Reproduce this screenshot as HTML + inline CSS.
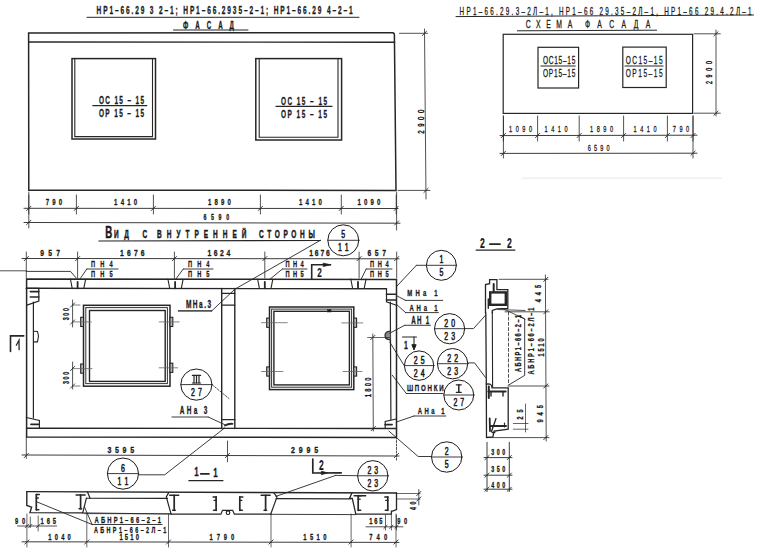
<!DOCTYPE html>
<html><head><meta charset="utf-8"><style>
html,body{margin:0;padding:0;background:#fff;}
svg{display:block;font-family:"Liberation Sans",sans-serif;}
</style></head><body>
<svg width="759" height="549" viewBox="0 0 759 549" stroke-linecap="round">
<rect width="759" height="549" fill="#fff"/>
<text x="0" y="0" font-size="10.6" font-weight="bold" fill="#1a1a1a" stroke="#1a1a1a" stroke-width="0.3" transform="translate(96.6 13.7) scale(0.62 1)" xml:space="preserve" textLength="412.9" lengthAdjust="spacing">НР1–66.29 3 2–1; НР1–66.2935–2–1; НР1–66.29 4–2–1</text>
<line x1="87" y1="17.3" x2="359" y2="17.3" stroke="#262626" stroke-width="1.0"/>
<text x="0" y="0" font-size="10" font-weight="bold" fill="#1a1a1a" stroke="#1a1a1a" stroke-width="0.3" transform="translate(183 28.5) scale(0.62 1)" xml:space="preserve" textLength="82.26" lengthAdjust="spacing">Ф А С А Д</text>
<line x1="173.5" y1="30" x2="248" y2="30" stroke="#262626" stroke-width="1.0"/>
<path d="M28.8,190.3 L28.6,33 L392.5,32.7 Q394.4,32.7 394.4,35 L396,190.4 Z" stroke="#262626" stroke-width="1.5" fill="none"/>
<line x1="28.6" y1="42" x2="394.6" y2="42.2" stroke="#262626" stroke-width="1.4"/>
<rect x="72" y="58.6" width="83.5" height="80.4" stroke="#262626" stroke-width="1.5" fill="none"/>
<path d="M74.8,58.6 L74.8,136.6 L152.5,136.6 L152.5,58.6" stroke="#262626" stroke-width="1.1" fill="none"/>
<rect x="255.8" y="58.6" width="85.8" height="81.4" stroke="#262626" stroke-width="1.5" fill="none"/>
<path d="M259.2,58.6 L259.2,137.2 L338,137.2 L338,58.6" stroke="#262626" stroke-width="1.1" fill="none"/>
<text x="0" y="0" font-size="10.4" font-weight="bold" fill="#1a1a1a" stroke="#1a1a1a" stroke-width="0.3" transform="translate(98.9 103.8) scale(0.62 1)" xml:space="preserve" textLength="72.74" lengthAdjust="spacing">ОС 15 – 15</text>
<line x1="92.8" y1="105.6" x2="146.8" y2="105.6" stroke="#262626" stroke-width="1.1"/>
<text x="0" y="0" font-size="10.4" font-weight="bold" fill="#1a1a1a" stroke="#1a1a1a" stroke-width="0.3" transform="translate(98.9 116.69999999999999) scale(0.62 1)" xml:space="preserve" textLength="72.74" lengthAdjust="spacing">ОР 15 – 15</text>
<text x="0" y="0" font-size="10.4" font-weight="bold" fill="#1a1a1a" stroke="#1a1a1a" stroke-width="0.3" transform="translate(281 104.60000000000001) scale(0.62 1)" xml:space="preserve" textLength="74.19" lengthAdjust="spacing">ОС 15 – 15</text>
<line x1="276" y1="106.4" x2="332" y2="106.4" stroke="#262626" stroke-width="1.1"/>
<text x="0" y="0" font-size="10.4" font-weight="bold" fill="#1a1a1a" stroke="#1a1a1a" stroke-width="0.3" transform="translate(281 117.5) scale(0.62 1)" xml:space="preserve" textLength="74.19" lengthAdjust="spacing">ОР 15 – 15</text>
<line x1="24" y1="208.3" x2="398" y2="208.5" stroke="#262626" stroke-width="0.9"/>
<line x1="26.7" y1="210.5" x2="30.900000000000002" y2="206.3" stroke="#262626" stroke-width="0.9"/>
<line x1="28.8" y1="195" x2="28.8" y2="214" stroke="#262626" stroke-width="0.8"/>
<line x1="74.30000000000001" y1="210.5" x2="78.5" y2="206.3" stroke="#262626" stroke-width="0.9"/>
<line x1="76.4" y1="195" x2="76.4" y2="214" stroke="#262626" stroke-width="0.8"/>
<line x1="151.3" y1="210.5" x2="155.5" y2="206.3" stroke="#262626" stroke-width="0.9"/>
<line x1="153.4" y1="195" x2="153.4" y2="214" stroke="#262626" stroke-width="0.8"/>
<line x1="258.29999999999995" y1="210.5" x2="262.5" y2="206.3" stroke="#262626" stroke-width="0.9"/>
<line x1="260.4" y1="195" x2="260.4" y2="214" stroke="#262626" stroke-width="0.8"/>
<line x1="339.2" y1="210.5" x2="343.40000000000003" y2="206.3" stroke="#262626" stroke-width="0.9"/>
<line x1="341.3" y1="195" x2="341.3" y2="214" stroke="#262626" stroke-width="0.8"/>
<line x1="394.09999999999997" y1="210.5" x2="398.3" y2="206.3" stroke="#262626" stroke-width="0.9"/>
<line x1="396.2" y1="195" x2="396.2" y2="214" stroke="#262626" stroke-width="0.8"/>
<line x1="28.8" y1="192" x2="28.8" y2="228" stroke="#262626" stroke-width="0.8"/>
<line x1="396.6" y1="192" x2="396.6" y2="230" stroke="#262626" stroke-width="0.8"/>
<text x="0" y="0" font-size="9.8" font-weight="bold" fill="#1a1a1a" stroke="#1a1a1a" stroke-width="0.3" transform="translate(45.8 205.3) scale(0.62 1)" xml:space="preserve" textLength="26.45" lengthAdjust="spacing">790</text>
<text x="0" y="0" font-size="9.8" font-weight="bold" fill="#1a1a1a" stroke="#1a1a1a" stroke-width="0.3" transform="translate(114.1 205.3) scale(0.62 1)" xml:space="preserve" textLength="37.1" lengthAdjust="spacing">1410</text>
<text x="0" y="0" font-size="9.8" font-weight="bold" fill="#1a1a1a" stroke="#1a1a1a" stroke-width="0.3" transform="translate(208.0 205.3) scale(0.62 1)" xml:space="preserve" textLength="37.1" lengthAdjust="spacing">1890</text>
<text x="0" y="0" font-size="9.8" font-weight="bold" fill="#1a1a1a" stroke="#1a1a1a" stroke-width="0.3" transform="translate(298.9 205.3) scale(0.62 1)" xml:space="preserve" textLength="37.1" lengthAdjust="spacing">1410</text>
<text x="0" y="0" font-size="9.8" font-weight="bold" fill="#1a1a1a" stroke="#1a1a1a" stroke-width="0.3" transform="translate(357.5 205.3) scale(0.62 1)" xml:space="preserve" textLength="37.1" lengthAdjust="spacing">1090</text>
<line x1="24" y1="222.5" x2="400" y2="223.2" stroke="#262626" stroke-width="0.9"/>
<line x1="26.7" y1="224.5" x2="30.900000000000002" y2="220.3" stroke="#262626" stroke-width="0.9"/>
<line x1="394.5" y1="225.1" x2="398.70000000000005" y2="220.9" stroke="#262626" stroke-width="0.9"/>
<text x="0" y="0" font-size="8.6" font-weight="bold" fill="#1a1a1a" stroke="#1a1a1a" stroke-width="0.3" transform="translate(203.45 220) scale(0.62 1)" xml:space="preserve" textLength="41.45" lengthAdjust="spacing">6590</text>
<line x1="399.5" y1="33.3" x2="427.6" y2="33.3" stroke="#262626" stroke-width="0.8"/>
<line x1="398" y1="190.4" x2="430" y2="190.4" stroke="#262626" stroke-width="0.8"/>
<line x1="424.5" y1="29" x2="426" y2="199" stroke="#262626" stroke-width="0.8"/>
<line x1="422.4" y1="35.4" x2="426.6" y2="31.199999999999996" stroke="#262626" stroke-width="0.9"/>
<line x1="423.9" y1="192.5" x2="428.1" y2="188.3" stroke="#262626" stroke-width="0.9"/>
<text x="0" y="0" font-size="9.8" font-weight="normal" fill="#1a1a1a" stroke="#1a1a1a" stroke-width="0.5" transform="translate(424 133.7) rotate(-90) scale(0.62 1)" xml:space="preserve" textLength="38.71" lengthAdjust="spacing">2900</text>
<text x="0" y="0" font-size="10.2" font-weight="normal" fill="#1a1a1a" stroke="#1a1a1a" stroke-width="0.3" transform="translate(459.6 14.5) scale(0.62 1)" xml:space="preserve" textLength="470.97" lengthAdjust="spacing">НР1–66.29.3–2Л–1, НР1–66 29.35–2Л–1, НР1–66 29.4.2Л–1</text>
<line x1="456" y1="16.6" x2="753.5" y2="15" stroke="#262626" stroke-width="1.0"/>
<text x="0" y="0" font-size="11" font-weight="normal" fill="#1a1a1a" stroke="#1a1a1a" stroke-width="0.3" transform="translate(525.8 28.1) scale(0.62 1)" xml:space="preserve" textLength="74.84" lengthAdjust="spacing">СХЕМА</text>
<text x="0" y="0" font-size="11" font-weight="normal" fill="#1a1a1a" stroke="#1a1a1a" stroke-width="0.3" transform="translate(584.9 28.1) scale(0.62 1)" xml:space="preserve" textLength="105.48" lengthAdjust="spacing">ФАСАДА</text>
<line x1="517.4" y1="30.8" x2="656.6" y2="30.2" stroke="#262626" stroke-width="1.0"/>
<rect x="503.2" y="34.3" width="189.4" height="79.1" stroke="#262626" stroke-width="1.2" fill="none"/>
<rect x="538" y="47.3" width="40.6" height="40.7" stroke="#262626" stroke-width="1.2" fill="none"/>
<rect x="622.8" y="47.1" width="43.4" height="40.4" stroke="#262626" stroke-width="1.2" fill="none"/>
<text x="0" y="0" font-size="10.6" font-weight="normal" fill="#1a1a1a" stroke="#1a1a1a" stroke-width="0.3" transform="translate(543 63.9) scale(0.62 1)" xml:space="preserve" textLength="52.1" lengthAdjust="spacing">ОС15–15</text>
<line x1="540.9" y1="66" x2="575.3" y2="66" stroke="#262626" stroke-width="1.1"/>
<text x="0" y="0" font-size="10.6" font-weight="normal" fill="#1a1a1a" stroke="#1a1a1a" stroke-width="0.3" transform="translate(543 76.5) scale(0.62 1)" xml:space="preserve" textLength="52.1" lengthAdjust="spacing">ОР15–15</text>
<text x="0" y="0" font-size="10.6" font-weight="normal" fill="#1a1a1a" stroke="#1a1a1a" stroke-width="0.3" transform="translate(625.7 63.9) scale(0.62 1)" xml:space="preserve" textLength="59.52" lengthAdjust="spacing">ОС15–15</text>
<line x1="625" y1="66" x2="663" y2="66" stroke="#262626" stroke-width="1.1"/>
<text x="0" y="0" font-size="10.6" font-weight="normal" fill="#1a1a1a" stroke="#1a1a1a" stroke-width="0.3" transform="translate(625.7 76.5) scale(0.62 1)" xml:space="preserve" textLength="59.52" lengthAdjust="spacing">ОР15–15</text>
<line x1="694" y1="33.8" x2="720.3" y2="33.8" stroke="#262626" stroke-width="0.8"/>
<line x1="694" y1="113.2" x2="720.3" y2="113.2" stroke="#262626" stroke-width="0.8"/>
<line x1="716" y1="30" x2="716" y2="116" stroke="#262626" stroke-width="0.8"/>
<line x1="713.9" y1="35.9" x2="718.1" y2="31.699999999999996" stroke="#262626" stroke-width="0.9"/>
<line x1="713.9" y1="115.3" x2="718.1" y2="111.10000000000001" stroke="#262626" stroke-width="0.9"/>
<text x="0" y="0" font-size="8.6" font-weight="normal" fill="#1a1a1a" stroke="#1a1a1a" stroke-width="0.5" transform="translate(712.3 84.1) rotate(-90) scale(0.62 1)" xml:space="preserve" textLength="37.1" lengthAdjust="spacing">2900</text>
<line x1="500" y1="135.6" x2="697" y2="135.2" stroke="#262626" stroke-width="0.9"/>
<line x1="501.29999999999995" y1="137.6" x2="505.5" y2="133.4" stroke="#262626" stroke-width="0.9"/>
<line x1="503.4" y1="116" x2="503.4" y2="141" stroke="#262626" stroke-width="0.8"/>
<line x1="535.5" y1="137.6" x2="539.7" y2="133.4" stroke="#262626" stroke-width="0.9"/>
<line x1="537.6" y1="116" x2="537.6" y2="141" stroke="#262626" stroke-width="0.8"/>
<line x1="577.1" y1="137.6" x2="581.3000000000001" y2="133.4" stroke="#262626" stroke-width="0.9"/>
<line x1="579.2" y1="116" x2="579.2" y2="141" stroke="#262626" stroke-width="0.8"/>
<line x1="621.5" y1="137.6" x2="625.7" y2="133.4" stroke="#262626" stroke-width="0.9"/>
<line x1="623.6" y1="116" x2="623.6" y2="141" stroke="#262626" stroke-width="0.8"/>
<line x1="665.3" y1="137.6" x2="669.5" y2="133.4" stroke="#262626" stroke-width="0.9"/>
<line x1="667.4" y1="116" x2="667.4" y2="141" stroke="#262626" stroke-width="0.8"/>
<line x1="690.9" y1="137.6" x2="695.1" y2="133.4" stroke="#262626" stroke-width="0.9"/>
<line x1="693" y1="116" x2="693" y2="141" stroke="#262626" stroke-width="0.8"/>
<line x1="503.4" y1="116" x2="503.4" y2="158" stroke="#262626" stroke-width="0.8"/>
<line x1="693" y1="116" x2="693" y2="158" stroke="#262626" stroke-width="0.8"/>
<text x="0" y="0" font-size="9" font-weight="normal" fill="#1a1a1a" stroke="#1a1a1a" stroke-width="0.3" transform="translate(509.0 132.2) scale(0.62 1)" xml:space="preserve" textLength="37.1" lengthAdjust="spacing">1090</text>
<text x="0" y="0" font-size="9" font-weight="normal" fill="#1a1a1a" stroke="#1a1a1a" stroke-width="0.3" transform="translate(544.5 132.2) scale(0.62 1)" xml:space="preserve" textLength="37.1" lengthAdjust="spacing">1410</text>
<text x="0" y="0" font-size="9" font-weight="normal" fill="#1a1a1a" stroke="#1a1a1a" stroke-width="0.3" transform="translate(590.1 132.2) scale(0.62 1)" xml:space="preserve" textLength="37.1" lengthAdjust="spacing">1890</text>
<text x="0" y="0" font-size="9" font-weight="normal" fill="#1a1a1a" stroke="#1a1a1a" stroke-width="0.3" transform="translate(633.5 132.2) scale(0.62 1)" xml:space="preserve" textLength="37.1" lengthAdjust="spacing">1410</text>
<text x="0" y="0" font-size="9" font-weight="normal" fill="#1a1a1a" stroke="#1a1a1a" stroke-width="0.3" transform="translate(672.8 132.2) scale(0.62 1)" xml:space="preserve" textLength="26.45" lengthAdjust="spacing">790</text>
<line x1="500" y1="153.4" x2="697" y2="153.2" stroke="#262626" stroke-width="0.9"/>
<line x1="501.29999999999995" y1="155.5" x2="505.5" y2="151.3" stroke="#262626" stroke-width="0.9"/>
<line x1="690.9" y1="155.29999999999998" x2="695.1" y2="151.1" stroke="#262626" stroke-width="0.9"/>
<text x="0" y="0" font-size="9" font-weight="normal" fill="#1a1a1a" stroke="#1a1a1a" stroke-width="0.3" transform="translate(587.7 150.6) scale(0.62 1)" xml:space="preserve" textLength="35.48" lengthAdjust="spacing">6590</text>
<line x1="522" y1="178.3" x2="721.5" y2="178.3" stroke="#f0f0f0" stroke-width="1.5"/>
<text x="0" y="0" font-size="16.2" font-weight="bold" fill="#1a1a1a" stroke="#1a1a1a" stroke-width="0.5" transform="translate(105.3 237.7) scale(0.6 1)" xml:space="preserve" textLength="9.17" lengthAdjust="spacing">В</text>
<text x="0" y="0" font-size="11.6" font-weight="bold" fill="#1a1a1a" stroke="#1a1a1a" stroke-width="0.5" transform="translate(114 237.8) scale(0.56 1)" xml:space="preserve" textLength="26.79" lengthAdjust="spacing">ИД</text>
<text x="0" y="0" font-size="11.6" font-weight="bold" fill="#1a1a1a" stroke="#1a1a1a" stroke-width="0.5" transform="translate(142.4 237.8) scale(0.56 1)" xml:space="preserve" textLength="7.14" lengthAdjust="spacing">С</text>
<text x="0" y="0" font-size="11.6" font-weight="bold" fill="#1a1a1a" stroke="#1a1a1a" stroke-width="0.5" transform="translate(157.1 237.8) scale(0.56 1)" xml:space="preserve" textLength="159.46" lengthAdjust="spacing">ВНУТРЕННЕЙ</text>
<text x="0" y="0" font-size="11.6" font-weight="bold" fill="#1a1a1a" stroke="#1a1a1a" stroke-width="0.5" transform="translate(259.1 237.8) scale(0.56 1)" xml:space="preserve" textLength="99.46" lengthAdjust="spacing">СТОРОНЫ</text>
<line x1="98.8" y1="241" x2="320.5" y2="240.5" stroke="#262626" stroke-width="1.1"/>
<circle cx="343.3" cy="240.3" r="15.5" stroke="#1a1a1a" stroke-width="1.0" fill="none"/>
<line x1="327.8" y1="240.3" x2="358.8" y2="240.3" stroke="#262626" stroke-width="0.9"/>
<text x="0" y="0" font-size="10.2" font-weight="normal" fill="#1a1a1a" stroke="#1a1a1a" stroke-width="0.55" transform="translate(341.3 238.20000000000002) scale(0.68 1)" xml:space="preserve" textLength="5.88" lengthAdjust="spacing">5</text>
<text x="0" y="0" font-size="10.2" font-weight="normal" fill="#1a1a1a" stroke="#1a1a1a" stroke-width="0.55" transform="translate(337.9 251.3) scale(0.68 1)" xml:space="preserve" textLength="15.88" lengthAdjust="spacing">11</text>
<path d="M320.4,240.3 L235,289.1 L211.7,310.9" stroke="#262626" stroke-width="0.9" fill="none"/>
<line x1="22" y1="258.5" x2="399" y2="258.8" stroke="#262626" stroke-width="0.9"/>
<line x1="24.2" y1="260.70000000000005" x2="28.400000000000002" y2="256.5" stroke="#262626" stroke-width="0.9"/>
<line x1="26.3" y1="252" x2="26.3" y2="278" stroke="#262626" stroke-width="0.8"/>
<line x1="75.5" y1="260.70000000000005" x2="79.69999999999999" y2="256.5" stroke="#262626" stroke-width="0.9"/>
<line x1="77.6" y1="252" x2="77.6" y2="278" stroke="#262626" stroke-width="0.8"/>
<line x1="172.3" y1="260.70000000000005" x2="176.5" y2="256.5" stroke="#262626" stroke-width="0.9"/>
<line x1="174.4" y1="252" x2="174.4" y2="278" stroke="#262626" stroke-width="0.8"/>
<line x1="262.7" y1="260.70000000000005" x2="266.90000000000003" y2="256.5" stroke="#262626" stroke-width="0.9"/>
<line x1="264.8" y1="252" x2="264.8" y2="278" stroke="#262626" stroke-width="0.8"/>
<line x1="357.0" y1="260.70000000000005" x2="361.20000000000005" y2="256.5" stroke="#262626" stroke-width="0.9"/>
<line x1="359.1" y1="252" x2="359.1" y2="278" stroke="#262626" stroke-width="0.8"/>
<line x1="394.59999999999997" y1="260.70000000000005" x2="398.8" y2="256.5" stroke="#262626" stroke-width="0.9"/>
<line x1="396.7" y1="252" x2="396.7" y2="278" stroke="#262626" stroke-width="0.8"/>
<text x="0" y="0" font-size="9.4" font-weight="bold" fill="#1a1a1a" stroke="#1a1a1a" stroke-width="0.3" transform="translate(40.3 255.9) scale(0.72 1)" xml:space="preserve" textLength="27.36" lengthAdjust="spacing">957</text>
<text x="0" y="0" font-size="9.4" font-weight="bold" fill="#1a1a1a" stroke="#1a1a1a" stroke-width="0.3" transform="translate(120.1 255.9) scale(0.72 1)" xml:space="preserve" textLength="34.03" lengthAdjust="spacing">1676</text>
<text x="0" y="0" font-size="9.4" font-weight="bold" fill="#1a1a1a" stroke="#1a1a1a" stroke-width="0.3" transform="translate(207.4 255.9) scale(0.72 1)" xml:space="preserve" textLength="31.67" lengthAdjust="spacing">1624</text>
<text x="0" y="0" font-size="9.4" font-weight="bold" fill="#1a1a1a" stroke="#1a1a1a" stroke-width="0.3" transform="translate(309.3 255.9) scale(0.72 1)" xml:space="preserve" textLength="28.47" lengthAdjust="spacing">1676</text>
<text x="0" y="0" font-size="9.4" font-weight="bold" fill="#1a1a1a" stroke="#1a1a1a" stroke-width="0.3" transform="translate(367.5 255.9) scale(0.72 1)" xml:space="preserve" textLength="25.69" lengthAdjust="spacing">657</text>
<line x1="0" y1="270.8" x2="26.3" y2="270.8" stroke="#262626" stroke-width="0.8"/>
<text x="0" y="0" font-size="9.2" font-weight="bold" fill="#1a1a1a" stroke="#1a1a1a" stroke-width="0.3" transform="translate(90.9 267.3) scale(0.62 1)" xml:space="preserve" textLength="35.0" lengthAdjust="spacing">ПН4</text>
<line x1="86.8" y1="269" x2="118.1" y2="269" stroke="#262626" stroke-width="0.9"/>
<text x="0" y="0" font-size="9.2" font-weight="bold" fill="#1a1a1a" stroke="#1a1a1a" stroke-width="0.3" transform="translate(90.9 277) scale(0.62 1)" xml:space="preserve" textLength="35.0" lengthAdjust="spacing">ПН5</text>
<line x1="86.8" y1="269" x2="80.3" y2="278.5" stroke="#262626" stroke-width="0.9"/>
<text x="0" y="0" font-size="9.2" font-weight="bold" fill="#1a1a1a" stroke="#1a1a1a" stroke-width="0.3" transform="translate(188 267.3) scale(0.62 1)" xml:space="preserve" textLength="34.68" lengthAdjust="spacing">ПН4</text>
<line x1="183.3" y1="269" x2="213" y2="269" stroke="#262626" stroke-width="0.9"/>
<text x="0" y="0" font-size="9.2" font-weight="bold" fill="#1a1a1a" stroke="#1a1a1a" stroke-width="0.3" transform="translate(188 277) scale(0.62 1)" xml:space="preserve" textLength="34.68" lengthAdjust="spacing">ПН5</text>
<line x1="183.3" y1="269" x2="175.7" y2="279.2" stroke="#262626" stroke-width="0.9"/>
<text x="0" y="0" font-size="9.2" font-weight="bold" fill="#1a1a1a" stroke="#1a1a1a" stroke-width="0.3" transform="translate(285.6 267.3) scale(0.62 1)" xml:space="preserve" textLength="29.35" lengthAdjust="spacing">ПН4</text>
<line x1="282.4" y1="269" x2="307" y2="269" stroke="#262626" stroke-width="0.9"/>
<text x="0" y="0" font-size="9.2" font-weight="bold" fill="#1a1a1a" stroke="#1a1a1a" stroke-width="0.3" transform="translate(285.6 277) scale(0.62 1)" xml:space="preserve" textLength="29.35" lengthAdjust="spacing">ПН5</text>
<line x1="282.4" y1="269" x2="269.8" y2="279.3" stroke="#262626" stroke-width="0.9"/>
<text x="0" y="0" font-size="9.2" font-weight="bold" fill="#1a1a1a" stroke="#1a1a1a" stroke-width="0.3" transform="translate(369.9 267.3) scale(0.62 1)" xml:space="preserve" textLength="30.32" lengthAdjust="spacing">ПН4</text>
<line x1="366.2" y1="269" x2="392" y2="269" stroke="#262626" stroke-width="0.9"/>
<text x="0" y="0" font-size="9.2" font-weight="bold" fill="#1a1a1a" stroke="#1a1a1a" stroke-width="0.3" transform="translate(369.9 277) scale(0.62 1)" xml:space="preserve" textLength="30.32" lengthAdjust="spacing">ПН5</text>
<line x1="366.2" y1="269" x2="361.1" y2="279.3" stroke="#262626" stroke-width="0.9"/>
<path d="M26.3,271.4 L70.5,271.4 L76.2,278" stroke="#262626" stroke-width="0.9" fill="none"/>
<path d="M311.7,278.8 L311.7,264.8 L330.6,264.8" stroke="#262626" stroke-width="1.6" fill="none"/>
<path d="M323.5,263.2 L330.6,264.8 L323.5,266.4 Z" stroke="#262626" stroke-width="0.8" fill="#1a1a1a"/>
<text x="0" y="0" font-size="13.6" font-weight="bold" fill="#1a1a1a" stroke="#1a1a1a" stroke-width="0.2" transform="translate(317.2 277.2) scale(0.6 1)" xml:space="preserve" textLength="10.5" lengthAdjust="spacing">2</text>
<path d="M26.6,437 L26.6,279 L396.5,279.6 L396.5,437.6 Z" stroke="#262626" stroke-width="1.5" fill="none"/>
<line x1="26.3" y1="288.3" x2="386.5" y2="288.8" stroke="#262626" stroke-width="1.4"/>
<line x1="26.6" y1="428.3" x2="396.5" y2="428.5" stroke="#262626" stroke-width="1.4"/>
<path d="M70.4,279 L72.2,288.3 M85.6,279.3 L83.8,288.3" stroke="#262626" stroke-width="1.1" fill="none"/>
<line x1="77.6" y1="282" x2="77.6" y2="288.3" stroke="#262626" stroke-width="1.8"/>
<path d="M167.9,279 L169.7,288.3 M183.1,279.3 L181.3,288.3" stroke="#262626" stroke-width="1.1" fill="none"/>
<line x1="175.1" y1="282" x2="175.1" y2="288.3" stroke="#262626" stroke-width="1.8"/>
<path d="M257.59999999999997,279 L259.4,288.3 M272.8,279.3 L271.0,288.3" stroke="#262626" stroke-width="1.1" fill="none"/>
<line x1="264.8" y1="282" x2="264.8" y2="288.3" stroke="#262626" stroke-width="1.8"/>
<path d="M350.79999999999995,279 L352.59999999999997,288.3 M366.0,279.3 L364.2,288.3" stroke="#262626" stroke-width="1.1" fill="none"/>
<line x1="358.0" y1="282" x2="358.0" y2="288.3" stroke="#262626" stroke-width="1.8"/>
<line x1="33.4" y1="302" x2="33.4" y2="418" stroke="#262626" stroke-width="1.2"/>
<path d="M26.3,288.3 L38.8,288.3 L38.8,301 L26.9,305.2" stroke="#262626" stroke-width="1.3" fill="none"/>
<line x1="30.3" y1="291.6" x2="38.8" y2="291.6" stroke="#262626" stroke-width="1.6"/>
<line x1="30.3" y1="297" x2="38.8" y2="297" stroke="#262626" stroke-width="1.6"/>
<path d="M33.6,331.2 L37.5,331.5 L38.5,336 L37.5,341.9 L33.6,341.9" stroke="#262626" stroke-width="1.1" fill="none"/>
<path d="M26.3,417.5 L39.4,420.4 L39.4,427.8" stroke="#262626" stroke-width="1.2" fill="none"/>
<line x1="31" y1="424.3" x2="38.4" y2="424.3" stroke="#262626" stroke-width="1.8"/>
<line x1="221.7" y1="288.5" x2="221.7" y2="428.5" stroke="#262626" stroke-width="1.4"/>
<line x1="234.8" y1="288.5" x2="234.8" y2="428.5" stroke="#262626" stroke-width="1.4"/>
<line x1="221.7" y1="293.3" x2="234.8" y2="293.3" stroke="#262626" stroke-width="1.2"/>
<line x1="221.7" y1="305.2" x2="234.8" y2="305.2" stroke="#262626" stroke-width="1.2"/>
<line x1="221.7" y1="419.7" x2="234.8" y2="419.7" stroke="#262626" stroke-width="1.2"/>
<path d="M225,425.5 Q228,423.5 232.5,423.8" stroke="#262626" stroke-width="1.8" fill="none"/>
<line x1="390.3" y1="302" x2="390.9" y2="419.5" stroke="#262626" stroke-width="1.2"/>
<path d="M386.5,288.8 L386.5,301.9 L395.7,305" stroke="#262626" stroke-width="1.2" fill="none"/>
<line x1="386.5" y1="294.2" x2="395.7" y2="294.2" stroke="#262626" stroke-width="1.6"/>
<line x1="386.5" y1="300" x2="395.7" y2="300" stroke="#262626" stroke-width="1.6"/>
<path d="M390.3,331 Q385,331.5 385,335.5 Q385,339.8 390.3,339.8" stroke="#262626" stroke-width="1.2" fill="#888"/>
<path d="M385.2,428.5 L385.2,421.5 L396.3,419" stroke="#262626" stroke-width="1.2" fill="none"/>
<line x1="385.2" y1="424.6" x2="392" y2="424.6" stroke="#262626" stroke-width="1.8"/>
<rect x="83.5" y="305.3" width="86.5" height="80.9" stroke="#262626" stroke-width="1.5" fill="none"/>
<rect x="85.8" y="307.6" width="81.6" height="76.0" stroke="#333" stroke-width="1.0" fill="none"/>
<rect x="89.5" y="310.5" width="75.7" height="70.9" stroke="#262626" stroke-width="1.4" fill="none"/>
<rect x="269.5" y="307" width="84.3" height="82.6" stroke="#262626" stroke-width="1.5" fill="none"/>
<rect x="271.6" y="309.1" width="80.0" height="78.1" stroke="#333" stroke-width="1.0" fill="none"/>
<rect x="273.9" y="311.3" width="75.5" height="73.6" stroke="#262626" stroke-width="1.4" fill="none"/>
<rect x="80.7" y="317.29999999999995" width="2.8" height="9.2" stroke="#262626" stroke-width="1.1" fill="#bbb"/>
<rect x="80.7" y="364.0" width="2.8" height="9.2" stroke="#262626" stroke-width="1.1" fill="#bbb"/>
<rect x="170" y="317.29999999999995" width="2.8" height="9.2" stroke="#262626" stroke-width="1.1" fill="#bbb"/>
<rect x="170" y="363.2" width="2.8" height="9.2" stroke="#262626" stroke-width="1.1" fill="#bbb"/>
<line x1="73" y1="321.9" x2="91.3" y2="321.9" stroke="#666" stroke-width="0.8"/>
<line x1="73" y1="368.6" x2="92" y2="368.6" stroke="#666" stroke-width="0.8"/>
<line x1="159.2" y1="321.9" x2="179.2" y2="321.9" stroke="#666" stroke-width="0.8"/>
<line x1="159.1" y1="367.8" x2="177.6" y2="367.8" stroke="#666" stroke-width="0.8"/>
<rect x="266.7" y="318.09999999999997" width="2.8" height="9.2" stroke="#262626" stroke-width="1.1" fill="#bbb"/>
<rect x="266.7" y="366.9" width="2.8" height="9.2" stroke="#262626" stroke-width="1.1" fill="#bbb"/>
<rect x="353.8" y="318.09999999999997" width="2.8" height="9.2" stroke="#262626" stroke-width="1.1" fill="#bbb"/>
<rect x="353.8" y="366.9" width="2.8" height="9.2" stroke="#262626" stroke-width="1.1" fill="#bbb"/>
<line x1="261.5" y1="322.7" x2="287.3" y2="322.7" stroke="#666" stroke-width="0.8"/>
<line x1="261.5" y1="371.5" x2="283" y2="371.5" stroke="#666" stroke-width="0.8"/>
<line x1="341.8" y1="322.9" x2="362.8" y2="322.9" stroke="#666" stroke-width="0.8"/>
<line x1="343" y1="371.5" x2="362" y2="371.5" stroke="#666" stroke-width="0.8"/>
<rect x="327.6" y="309.6" width="3.4" height="2.4" stroke="#262626" stroke-width="0.5" fill="#1a1a1a"/>
<line x1="72.6" y1="300" x2="72.6" y2="327" stroke="#262626" stroke-width="0.8"/>
<line x1="70.5" y1="307.1" x2="74.69999999999999" y2="302.9" stroke="#262626" stroke-width="0.9"/>
<line x1="70.5" y1="324.1" x2="74.69999999999999" y2="319.9" stroke="#262626" stroke-width="0.9"/>
<line x1="72.6" y1="305" x2="80" y2="305" stroke="#262626" stroke-width="0.6"/>
<text x="0" y="0" font-size="8.8" font-weight="bold" fill="#1a1a1a" stroke="#1a1a1a" stroke-width="0.3" transform="translate(69.4 320.3) rotate(-90) scale(0.62 1)" xml:space="preserve" textLength="19.84" lengthAdjust="spacing">300</text>
<line x1="72.6" y1="362" x2="72.6" y2="389" stroke="#262626" stroke-width="0.8"/>
<line x1="70.5" y1="370.6" x2="74.69999999999999" y2="366.4" stroke="#262626" stroke-width="0.9"/>
<line x1="70.5" y1="388.1" x2="74.69999999999999" y2="383.9" stroke="#262626" stroke-width="0.9"/>
<line x1="72.6" y1="386" x2="80" y2="386" stroke="#262626" stroke-width="0.6"/>
<text x="0" y="0" font-size="8.8" font-weight="bold" fill="#1a1a1a" stroke="#1a1a1a" stroke-width="0.3" transform="translate(69.4 384) rotate(-90) scale(0.62 1)" xml:space="preserve" textLength="19.84" lengthAdjust="spacing">300</text>
<line x1="372.8" y1="334" x2="373.3" y2="431" stroke="#262626" stroke-width="0.8"/>
<line x1="367.6" y1="337.5" x2="389.7" y2="337.5" stroke="#262626" stroke-width="0.7"/>
<line x1="370.7" y1="339.6" x2="374.90000000000003" y2="335.4" stroke="#262626" stroke-width="0.9"/>
<line x1="371.2" y1="430.70000000000005" x2="375.40000000000003" y2="426.5" stroke="#262626" stroke-width="0.9"/>
<text x="0" y="0" font-size="9.4" font-weight="bold" fill="#1a1a1a" stroke="#1a1a1a" stroke-width="0.3" transform="translate(370.6 397.3) rotate(-90) scale(0.62 1)" xml:space="preserve" textLength="31.94" lengthAdjust="spacing">1800</text>
<path d="M10.5,351.4 L10.5,335.9 L23.7,335.9" stroke="#262626" stroke-width="1.6" fill="none"/>
<path d="M16.3,345.2 L19,340.2 L19.1,349.7" stroke="#262626" stroke-width="1.3" fill="none"/>
<line x1="396.5" y1="286.6" x2="416.4" y2="265.3" stroke="#262626" stroke-width="0.9"/>
<line x1="416.4" y1="265.3" x2="426" y2="265.3" stroke="#262626" stroke-width="0.9"/>
<circle cx="441.4" cy="265.3" r="15" stroke="#1a1a1a" stroke-width="1.0" fill="none"/>
<line x1="426.4" y1="265.3" x2="456.4" y2="265.3" stroke="#262626" stroke-width="0.9"/>
<text x="0" y="0" font-size="10.2" font-weight="normal" fill="#1a1a1a" stroke="#1a1a1a" stroke-width="0.55" transform="translate(439.4 263.2) scale(0.68 1)" xml:space="preserve" textLength="5.88" lengthAdjust="spacing">1</text>
<text x="0" y="0" font-size="10.2" font-weight="normal" fill="#1a1a1a" stroke="#1a1a1a" stroke-width="0.55" transform="translate(439.4 276.3) scale(0.68 1)" xml:space="preserve" textLength="5.88" lengthAdjust="spacing">5</text>
<text x="0" y="0" font-size="9.6" font-weight="bold" fill="#1a1a1a" stroke="#1a1a1a" stroke-width="0.3" transform="translate(407.3 296.4) scale(0.62 1)" xml:space="preserve" textLength="48.71" lengthAdjust="spacing">МНа 1</text>
<line x1="405.6" y1="300.4" x2="442.7" y2="300.4" stroke="#262626" stroke-width="0.9"/>
<line x1="405.6" y1="300.4" x2="396.4" y2="295.6" stroke="#262626" stroke-width="0.9"/>
<text x="0" y="0" font-size="9.6" font-weight="bold" fill="#1a1a1a" stroke="#1a1a1a" stroke-width="0.3" transform="translate(409.5 310.9) scale(0.62 1)" xml:space="preserve" textLength="45.16" lengthAdjust="spacing">АНа 1</text>
<line x1="405.6" y1="312.6" x2="438.4" y2="312.6" stroke="#262626" stroke-width="0.9"/>
<line x1="405.6" y1="312.6" x2="396.4" y2="304.3" stroke="#262626" stroke-width="0.9"/>
<text x="0" y="0" font-size="10" font-weight="bold" fill="#1a1a1a" stroke="#1a1a1a" stroke-width="0.3" transform="translate(411.2 323.6) scale(0.62 1)" xml:space="preserve" textLength="29.03" lengthAdjust="spacing">АН 1</text>
<line x1="404.7" y1="325.3" x2="430.5" y2="325.3" stroke="#262626" stroke-width="0.9"/>
<line x1="404.7" y1="325.3" x2="389.7" y2="333.2" stroke="#262626" stroke-width="0.9"/>
<line x1="402.5" y1="337" x2="416.5" y2="337" stroke="#262626" stroke-width="1.1"/>
<line x1="414" y1="337" x2="414" y2="347" stroke="#262626" stroke-width="1.1"/>
<path d="M412,345 L414,350 L416,345 Z" stroke="#262626" stroke-width="1" fill="#1a1a1a"/>
<text x="0" y="0" font-size="11" font-weight="bold" fill="#1a1a1a" stroke="#1a1a1a" stroke-width="0.3" transform="translate(404 348.8) scale(0.62 1)" xml:space="preserve" textLength="7.1" lengthAdjust="spacing">1</text>
<circle cx="449.6" cy="328.7" r="15.1" stroke="#1a1a1a" stroke-width="1.0" fill="none"/>
<line x1="434.5" y1="328.7" x2="464.70000000000005" y2="328.7" stroke="#262626" stroke-width="0.9"/>
<text x="0" y="0" font-size="10.2" font-weight="normal" fill="#1a1a1a" stroke="#1a1a1a" stroke-width="0.55" transform="translate(444.2 326.59999999999997) scale(0.68 1)" xml:space="preserve" textLength="15.88" lengthAdjust="spacing">20</text>
<text x="0" y="0" font-size="10.2" font-weight="normal" fill="#1a1a1a" stroke="#1a1a1a" stroke-width="0.55" transform="translate(444.2 339.7) scale(0.68 1)" xml:space="preserve" textLength="15.88" lengthAdjust="spacing">23</text>
<circle cx="419.1" cy="365.6" r="14.7" stroke="#1a1a1a" stroke-width="1.0" fill="none"/>
<line x1="404.40000000000003" y1="365.6" x2="433.8" y2="365.6" stroke="#262626" stroke-width="0.9"/>
<text x="0" y="0" font-size="10.2" font-weight="normal" fill="#1a1a1a" stroke="#1a1a1a" stroke-width="0.55" transform="translate(413.7 363.5) scale(0.68 1)" xml:space="preserve" textLength="15.88" lengthAdjust="spacing">25</text>
<text x="0" y="0" font-size="10.2" font-weight="normal" fill="#1a1a1a" stroke="#1a1a1a" stroke-width="0.55" transform="translate(413.7 376.6) scale(0.68 1)" xml:space="preserve" textLength="15.88" lengthAdjust="spacing">24</text>
<circle cx="452.6" cy="363.7" r="15.2" stroke="#1a1a1a" stroke-width="1.0" fill="none"/>
<line x1="437.40000000000003" y1="363.7" x2="467.8" y2="363.7" stroke="#262626" stroke-width="0.9"/>
<text x="0" y="0" font-size="10.2" font-weight="normal" fill="#1a1a1a" stroke="#1a1a1a" stroke-width="0.55" transform="translate(447.2 361.59999999999997) scale(0.68 1)" xml:space="preserve" textLength="15.88" lengthAdjust="spacing">22</text>
<text x="0" y="0" font-size="10.2" font-weight="normal" fill="#1a1a1a" stroke="#1a1a1a" stroke-width="0.55" transform="translate(447.2 374.7) scale(0.68 1)" xml:space="preserve" textLength="15.88" lengthAdjust="spacing">23</text>
<circle cx="458.8" cy="395" r="15" stroke="#1a1a1a" stroke-width="1.0" fill="none"/>
<line x1="443.8" y1="395" x2="473.8" y2="395" stroke="#262626" stroke-width="0.9"/>
<text x="0" y="0" font-size="10.2" font-weight="normal" fill="#1a1a1a" stroke="#1a1a1a" stroke-width="0.55" transform="translate(453.4 406) scale(0.68 1)" xml:space="preserve" textLength="15.88" lengthAdjust="spacing">27</text>
<line x1="456.3" y1="384.8" x2="461.3" y2="384.8" stroke="#262626" stroke-width="1.2"/>
<line x1="458.8" y1="384.8" x2="458.8" y2="392.3" stroke="#262626" stroke-width="1.5"/>
<line x1="456.3" y1="392.3" x2="461.3" y2="392.3" stroke="#262626" stroke-width="1.2"/>
<line x1="403.8" y1="365" x2="389.7" y2="342" stroke="#262626" stroke-width="0.9"/>
<text x="0" y="0" font-size="8.8" font-weight="bold" fill="#1a1a1a" stroke="#1a1a1a" stroke-width="0.3" transform="translate(406.9 390.6) scale(0.7 1)" xml:space="preserve" textLength="52.71" lengthAdjust="spacing">ШПОНКИ</text>
<line x1="406.3" y1="393.5" x2="443" y2="393.5" stroke="#262626" stroke-width="0.9"/>
<line x1="406.3" y1="393.5" x2="392.3" y2="375.2" stroke="#262626" stroke-width="0.9"/>
<text x="0" y="0" font-size="9.6" font-weight="bold" fill="#1a1a1a" stroke="#1a1a1a" stroke-width="0.3" transform="translate(417.8 413.5) scale(0.62 1)" xml:space="preserve" textLength="43.23" lengthAdjust="spacing">АНа 1</text>
<line x1="414" y1="416" x2="445.8" y2="416" stroke="#262626" stroke-width="0.9"/>
<line x1="414" y1="416" x2="396.2" y2="422.1" stroke="#262626" stroke-width="0.9"/>
<path d="M464.9,328.6 L473.5,328.6 L485.5,315.3" stroke="#262626" stroke-width="0.9" fill="none"/>
<path d="M467.5,362.9 L474.6,362.9 L485.5,377.5" stroke="#262626" stroke-width="0.9" fill="none"/>
<text x="0" y="0" font-size="10.6" font-weight="bold" fill="#1a1a1a" stroke="#1a1a1a" stroke-width="0.3" transform="translate(185.9 308) scale(0.62 1)" xml:space="preserve" textLength="40.65" lengthAdjust="spacing">МНа.3</text>
<line x1="178.3" y1="310.9" x2="211.7" y2="310.9" stroke="#262626" stroke-width="0.9"/>
<line x1="178.3" y1="310.9" x2="211.7" y2="310.9" stroke="#262626" stroke-width="0.9"/>
<circle cx="196.4" cy="384.6" r="15.6" stroke="#1a1a1a" stroke-width="1.0" fill="none"/>
<line x1="180.8" y1="384.6" x2="212.0" y2="384.6" stroke="#262626" stroke-width="0.9"/>
<text x="0" y="0" font-size="10.2" font-weight="normal" fill="#1a1a1a" stroke="#1a1a1a" stroke-width="0.55" transform="translate(191.0 395.6) scale(0.68 1)" xml:space="preserve" textLength="15.88" lengthAdjust="spacing">27</text>
<line x1="192.4" y1="375.4" x2="200.6" y2="375.4" stroke="#262626" stroke-width="1.2"/>
<line x1="192.4" y1="383" x2="200.6" y2="383" stroke="#262626" stroke-width="1.2"/>
<line x1="194" y1="375.4" x2="194" y2="383" stroke="#262626" stroke-width="1.2"/>
<line x1="196.5" y1="375.4" x2="196.5" y2="383" stroke="#262626" stroke-width="1.2"/>
<line x1="199" y1="375.4" x2="199" y2="383" stroke="#262626" stroke-width="1.2"/>
<line x1="212" y1="384.6" x2="229" y2="398.5" stroke="#262626" stroke-width="0.8" stroke-dasharray="2,1.5"/>
<text x="0" y="0" font-size="10.4" font-weight="bold" fill="#1a1a1a" stroke="#1a1a1a" stroke-width="0.3" transform="translate(179.8 414.3) scale(0.62 1)" xml:space="preserve" textLength="44.52" lengthAdjust="spacing">АНа 3</text>
<line x1="171.9" y1="417" x2="208.2" y2="417" stroke="#262626" stroke-width="0.9"/>
<line x1="208.2" y1="417" x2="224.6" y2="424.6" stroke="#262626" stroke-width="0.9"/>
<line x1="22" y1="455" x2="399" y2="456" stroke="#262626" stroke-width="0.9"/>
<line x1="24.2" y1="457.6" x2="28.400000000000002" y2="453.4" stroke="#262626" stroke-width="0.9"/>
<line x1="225.4" y1="457.6" x2="229.6" y2="453.4" stroke="#262626" stroke-width="0.9"/>
<line x1="394.4" y1="457.6" x2="398.6" y2="453.4" stroke="#262626" stroke-width="0.9"/>
<line x1="26.3" y1="437" x2="26.3" y2="458.4" stroke="#262626" stroke-width="0.8"/>
<line x1="227.5" y1="441" x2="227.5" y2="461.8" stroke="#262626" stroke-width="0.8"/>
<line x1="396.5" y1="437" x2="396.5" y2="461.4" stroke="#262626" stroke-width="0.8" stroke-dasharray="2,1.5"/>
<text x="0" y="0" font-size="9.8" font-weight="bold" fill="#1a1a1a" stroke="#1a1a1a" stroke-width="0.3" transform="translate(107.4 453) scale(0.72 1)" xml:space="preserve" textLength="37.08" lengthAdjust="spacing">3595</text>
<text x="0" y="0" font-size="9.8" font-weight="bold" fill="#1a1a1a" stroke="#1a1a1a" stroke-width="0.3" transform="translate(291.1 453) scale(0.72 1)" xml:space="preserve" textLength="37.78" lengthAdjust="spacing">2995</text>
<circle cx="123" cy="473.6" r="15.6" stroke="#1a1a1a" stroke-width="1.0" fill="none"/>
<line x1="107.4" y1="473.6" x2="138.6" y2="473.6" stroke="#262626" stroke-width="0.9"/>
<text x="0" y="0" font-size="10.2" font-weight="normal" fill="#1a1a1a" stroke="#1a1a1a" stroke-width="0.55" transform="translate(121.0 471.5) scale(0.68 1)" xml:space="preserve" textLength="5.88" lengthAdjust="spacing">6</text>
<text x="0" y="0" font-size="10.2" font-weight="normal" fill="#1a1a1a" stroke="#1a1a1a" stroke-width="0.55" transform="translate(117.6 484.6) scale(0.68 1)" xml:space="preserve" textLength="15.88" lengthAdjust="spacing">11</text>
<path d="M138.8,474.8 L164.7,474.8 L224.6,428" stroke="#262626" stroke-width="0.9" fill="none"/>
<circle cx="446.7" cy="457" r="15.2" stroke="#1a1a1a" stroke-width="1.0" fill="none"/>
<line x1="431.5" y1="457" x2="461.9" y2="457" stroke="#262626" stroke-width="0.9"/>
<text x="0" y="0" font-size="10.2" font-weight="normal" fill="#1a1a1a" stroke="#1a1a1a" stroke-width="0.55" transform="translate(444.7 454.9) scale(0.68 1)" xml:space="preserve" textLength="5.88" lengthAdjust="spacing">2</text>
<text x="0" y="0" font-size="10.2" font-weight="normal" fill="#1a1a1a" stroke="#1a1a1a" stroke-width="0.55" transform="translate(444.7 468) scale(0.68 1)" xml:space="preserve" textLength="5.88" lengthAdjust="spacing">5</text>
<path d="M431.5,456.5 L418.2,456.5 L388.9,431.1" stroke="#262626" stroke-width="0.9" fill="none"/>
<circle cx="372.8" cy="475.8" r="15.2" stroke="#1a1a1a" stroke-width="1.0" fill="none"/>
<line x1="357.6" y1="475.8" x2="388.0" y2="475.8" stroke="#262626" stroke-width="0.9"/>
<text x="0" y="0" font-size="10.2" font-weight="normal" fill="#1a1a1a" stroke="#1a1a1a" stroke-width="0.55" transform="translate(367.4 473.7) scale(0.68 1)" xml:space="preserve" textLength="15.88" lengthAdjust="spacing">23</text>
<text x="0" y="0" font-size="10.2" font-weight="normal" fill="#1a1a1a" stroke="#1a1a1a" stroke-width="0.55" transform="translate(367.4 486.8) scale(0.68 1)" xml:space="preserve" textLength="15.88" lengthAdjust="spacing">23</text>
<line x1="357.6" y1="475.7" x2="335.6" y2="475.4" stroke="#262626" stroke-width="0.9"/>
<line x1="335.6" y1="475.4" x2="275.9" y2="496.4" stroke="#262626" stroke-width="0.9"/>
<path d="M312.8,459 L312.8,473 L341.2,472.8" stroke="#262626" stroke-width="1.7" fill="none"/>
<path d="M321.7,471.2 L327.5,472.9 L321.7,474.6 Z" stroke="#262626" stroke-width="0.8" fill="#1a1a1a"/>
<text x="0" y="0" font-size="14.8" font-weight="bold" fill="#1a1a1a" stroke="#1a1a1a" stroke-width="0.1" transform="translate(319.1 469.5) scale(0.58 1)" xml:space="preserve" textLength="9.66" lengthAdjust="spacing">2</text>
<text x="0" y="0" font-size="12.8" font-weight="bold" fill="#1a1a1a" stroke="#1a1a1a" stroke-width="0.3" transform="translate(194.3 476.2) scale(0.62 1)" xml:space="preserve" textLength="6.77" lengthAdjust="spacing">1</text>
<text x="0" y="0" font-size="12.8" font-weight="bold" fill="#1a1a1a" stroke="#1a1a1a" stroke-width="0.3" transform="translate(213.3 476.5) scale(0.62 1)" xml:space="preserve" textLength="6.77" lengthAdjust="spacing">1</text>
<line x1="200.7" y1="473.9" x2="209" y2="473.9" stroke="#262626" stroke-width="1.6"/>
<line x1="188.9" y1="480.7" x2="222.9" y2="480.7" stroke="#262626" stroke-width="1.3"/>
<line x1="26.8" y1="491.6" x2="396.5" y2="493" stroke="#262626" stroke-width="1.4"/>
<path d="M26.8,491.6 L26.8,505.5 L31.6,507.1 L30,512.6 L82.7,512.9" stroke="#262626" stroke-width="1.4" fill="none"/>
<line x1="86.4" y1="498.2" x2="167.5" y2="498.4" stroke="#262626" stroke-width="1.1"/>
<line x1="82.7" y1="512.9" x2="171.1" y2="514" stroke="#262626" stroke-width="0.9"/>
<path d="M87.4,491.7 L90.1,498.2 M86.4,498.2 L82.7,512.9" stroke="#262626" stroke-width="1.2" fill="none"/>
<path d="M168.7,492.6 L166.3,496.9 L171.1,514.2" stroke="#262626" stroke-width="1.2" fill="none"/>
<path d="M171.1,514.2 L220.9,514.2 L222.5,510.3 L232.7,510.3 L234.3,514.2 L270.7,514.2" stroke="#262626" stroke-width="1.2" fill="none"/>
<circle cx="228" cy="512.7" r="1.8" stroke="#1a1a1a" stroke-width="1.1" fill="none"/>
<path d="M273.8,492.8 L277,496.9 L270.7,514.2" stroke="#262626" stroke-width="1.2" fill="none"/>
<line x1="276" y1="498.6" x2="350.9" y2="498.9" stroke="#262626" stroke-width="1.1"/>
<line x1="270.7" y1="514.3" x2="355.8" y2="514.6" stroke="#262626" stroke-width="0.9"/>
<path d="M351.9,492.9 L349.5,498.4 L352.3,498.4 L355.8,514.2 L391.4,514.2 L391.4,511.1 L392.6,511.1 L396.5,509.5 L396.5,492.9" stroke="#262626" stroke-width="1.3" fill="none"/>
<line x1="36.3" y1="494.5" x2="36.3" y2="509.8" stroke="#262626" stroke-width="1.7"/>
<line x1="36.3" y1="494.5" x2="39.3" y2="494.5" stroke="#262626" stroke-width="1.5"/>
<line x1="36.3" y1="498.0" x2="38.3" y2="498.0" stroke="#262626" stroke-width="1.3"/>
<line x1="36.3" y1="509.8" x2="38.8" y2="509.8" stroke="#262626" stroke-width="1.6"/>
<line x1="80.6" y1="495" x2="80.6" y2="508.7" stroke="#262626" stroke-width="1.7"/>
<line x1="76.1" y1="495" x2="85.1" y2="495" stroke="#262626" stroke-width="1.5"/>
<line x1="79.1" y1="508.7" x2="81.6" y2="508.7" stroke="#262626" stroke-width="1.6"/>
<line x1="174.2" y1="495.3" x2="174.2" y2="510.3" stroke="#262626" stroke-width="1.7"/>
<line x1="169.7" y1="495.3" x2="178.7" y2="495.3" stroke="#262626" stroke-width="1.5"/>
<line x1="172.7" y1="510.3" x2="175.2" y2="510.3" stroke="#262626" stroke-width="1.6"/>
<line x1="216.1" y1="496.9" x2="216.1" y2="510.3" stroke="#262626" stroke-width="1.7"/>
<line x1="213.1" y1="496.9" x2="216.1" y2="496.9" stroke="#262626" stroke-width="1.5"/>
<line x1="214.1" y1="500.4" x2="216.1" y2="500.4" stroke="#262626" stroke-width="1.3"/>
<line x1="213.6" y1="510.3" x2="216.1" y2="510.3" stroke="#262626" stroke-width="1.6"/>
<line x1="239.8" y1="496.9" x2="239.8" y2="510.3" stroke="#262626" stroke-width="1.7"/>
<line x1="239.8" y1="496.9" x2="242.8" y2="496.9" stroke="#262626" stroke-width="1.5"/>
<line x1="239.8" y1="500.4" x2="241.8" y2="500.4" stroke="#262626" stroke-width="1.3"/>
<line x1="239.8" y1="510.3" x2="242.3" y2="510.3" stroke="#262626" stroke-width="1.6"/>
<line x1="265.6" y1="495.3" x2="265.6" y2="510.3" stroke="#262626" stroke-width="1.7"/>
<line x1="261.1" y1="495.3" x2="270.1" y2="495.3" stroke="#262626" stroke-width="1.5"/>
<line x1="264.1" y1="510.3" x2="266.6" y2="510.3" stroke="#262626" stroke-width="1.6"/>
<line x1="358.2" y1="495.7" x2="358.2" y2="510.3" stroke="#262626" stroke-width="1.7"/>
<line x1="358.2" y1="495.7" x2="361.2" y2="495.7" stroke="#262626" stroke-width="1.5"/>
<line x1="358.2" y1="499.2" x2="360.2" y2="499.2" stroke="#262626" stroke-width="1.3"/>
<line x1="358.2" y1="510.3" x2="360.7" y2="510.3" stroke="#262626" stroke-width="1.6"/>
<line x1="387.8" y1="496.9" x2="387.8" y2="510.3" stroke="#262626" stroke-width="1.7"/>
<line x1="384.8" y1="496.9" x2="387.8" y2="496.9" stroke="#262626" stroke-width="1.5"/>
<line x1="385.8" y1="500.4" x2="387.8" y2="500.4" stroke="#262626" stroke-width="1.3"/>
<line x1="385.3" y1="510.3" x2="387.8" y2="510.3" stroke="#262626" stroke-width="1.6"/>
<line x1="354.2" y1="495.7" x2="365.7" y2="495.7" stroke="#262626" stroke-width="1.5"/>
<text x="0" y="0" font-size="9.4" font-weight="bold" fill="#1a1a1a" stroke="#1a1a1a" stroke-width="0.3" transform="translate(94.5 522.5) scale(0.62 1)" xml:space="preserve" textLength="107.1" lengthAdjust="spacing">АБНР1–66–2–1</text>
<line x1="92.1" y1="524.5" x2="162.1" y2="524.5" stroke="#262626" stroke-width="0.9"/>
<line x1="92.1" y1="524.5" x2="37.4" y2="502.1" stroke="#262626" stroke-width="0.9"/>
<line x1="92.1" y1="524.5" x2="84.5" y2="507" stroke="#262626" stroke-width="0.9"/>
<text x="0" y="0" font-size="8.8" font-weight="bold" fill="#1a1a1a" stroke="#1a1a1a" stroke-width="0.3" transform="translate(93.9 533.1) scale(0.62 1)" xml:space="preserve" textLength="116.61" lengthAdjust="spacing">АБНР1–66–2Л–1</text>
<line x1="84.5" y1="513.6" x2="170" y2="513.8" stroke="#262626" stroke-width="0.8"/>
<line x1="17.5" y1="526" x2="56.6" y2="526" stroke="#262626" stroke-width="0.8"/>
<line x1="30.3" y1="517" x2="30.3" y2="527.5" stroke="#262626" stroke-width="0.7"/>
<line x1="38.2" y1="516" x2="38.2" y2="531" stroke="#262626" stroke-width="0.7"/>
<line x1="25.299999999999997" y1="527.6" x2="28.5" y2="524.4" stroke="#262626" stroke-width="0.9"/>
<line x1="28.7" y1="527.6" x2="31.900000000000002" y2="524.4" stroke="#262626" stroke-width="0.9"/>
<line x1="36.6" y1="527.6" x2="39.800000000000004" y2="524.4" stroke="#262626" stroke-width="0.9"/>
<text x="0" y="0" font-size="9.4" font-weight="bold" fill="#1a1a1a" stroke="#1a1a1a" stroke-width="0.3" transform="translate(15.1 524.2) scale(0.62 1)" xml:space="preserve" textLength="16.29" lengthAdjust="spacing">90</text>
<text x="0" y="0" font-size="9.4" font-weight="bold" fill="#1a1a1a" stroke="#1a1a1a" stroke-width="0.3" transform="translate(40.6 524.2) scale(0.62 1)" xml:space="preserve" textLength="24.84" lengthAdjust="spacing">165</text>
<line x1="366" y1="526.8" x2="403" y2="526.8" stroke="#262626" stroke-width="0.8"/>
<line x1="385.5" y1="515" x2="385.5" y2="530" stroke="#262626" stroke-width="0.7"/>
<line x1="383.9" y1="528.4" x2="387.1" y2="525.1999999999999" stroke="#262626" stroke-width="0.9"/>
<line x1="391.4" y1="515" x2="391.4" y2="530" stroke="#262626" stroke-width="0.7"/>
<line x1="389.79999999999995" y1="528.4" x2="393.0" y2="525.1999999999999" stroke="#262626" stroke-width="0.9"/>
<line x1="396.5" y1="515" x2="396.5" y2="530" stroke="#262626" stroke-width="0.7"/>
<line x1="394.9" y1="528.4" x2="398.1" y2="525.1999999999999" stroke="#262626" stroke-width="0.9"/>
<text x="0" y="0" font-size="9.2" font-weight="bold" fill="#1a1a1a" stroke="#1a1a1a" stroke-width="0.3" transform="translate(369.2 523.5) scale(0.62 1)" xml:space="preserve" textLength="21.29" lengthAdjust="spacing">165</text>
<text x="0" y="0" font-size="9.2" font-weight="bold" fill="#1a1a1a" stroke="#1a1a1a" stroke-width="0.3" transform="translate(397.2 523.5) scale(0.62 1)" xml:space="preserve" textLength="15.97" lengthAdjust="spacing">90</text>
<line x1="22" y1="541.8" x2="399" y2="542.4" stroke="#262626" stroke-width="0.9"/>
<line x1="24.799999999999997" y1="544.1" x2="29.0" y2="539.9" stroke="#262626" stroke-width="0.9"/>
<line x1="26.9" y1="514" x2="26.9" y2="547" stroke="#262626" stroke-width="0.7"/>
<line x1="84.7" y1="544.1" x2="88.89999999999999" y2="539.9" stroke="#262626" stroke-width="0.9"/>
<line x1="86.8" y1="514" x2="86.8" y2="547" stroke="#262626" stroke-width="0.7"/>
<line x1="166.4" y1="544.1" x2="170.6" y2="539.9" stroke="#262626" stroke-width="0.9"/>
<line x1="168.5" y1="514" x2="168.5" y2="547" stroke="#262626" stroke-width="0.7"/>
<line x1="268.9" y1="544.1" x2="273.1" y2="539.9" stroke="#262626" stroke-width="0.9"/>
<line x1="271" y1="514" x2="271" y2="547" stroke="#262626" stroke-width="0.7"/>
<line x1="349.0" y1="544.1" x2="353.20000000000005" y2="539.9" stroke="#262626" stroke-width="0.9"/>
<line x1="351.1" y1="514" x2="351.1" y2="547" stroke="#262626" stroke-width="0.7"/>
<line x1="393.9" y1="544.1" x2="398.1" y2="539.9" stroke="#262626" stroke-width="0.9"/>
<line x1="396" y1="514" x2="396" y2="547" stroke="#262626" stroke-width="0.7"/>
<text x="0" y="0" font-size="9.4" font-weight="bold" fill="#1a1a1a" stroke="#1a1a1a" stroke-width="0.3" transform="translate(48.3 539.5) scale(0.62 1)" xml:space="preserve" textLength="36.29" lengthAdjust="spacing">1040</text>
<text x="0" y="0" font-size="9.4" font-weight="bold" fill="#1a1a1a" stroke="#1a1a1a" stroke-width="0.3" transform="translate(119.4 539.5) scale(0.62 1)" xml:space="preserve" textLength="31.61" lengthAdjust="spacing">1510</text>
<text x="0" y="0" font-size="9.4" font-weight="bold" fill="#1a1a1a" stroke="#1a1a1a" stroke-width="0.3" transform="translate(209.5 539.5) scale(0.62 1)" xml:space="preserve" textLength="39.84" lengthAdjust="spacing">1790</text>
<text x="0" y="0" font-size="9.4" font-weight="bold" fill="#1a1a1a" stroke="#1a1a1a" stroke-width="0.3" transform="translate(303.3 539.5) scale(0.62 1)" xml:space="preserve" textLength="37.26" lengthAdjust="spacing">1510</text>
<text x="0" y="0" font-size="9.4" font-weight="bold" fill="#1a1a1a" stroke="#1a1a1a" stroke-width="0.3" transform="translate(369.2 539.5) scale(0.62 1)" xml:space="preserve" textLength="29.19" lengthAdjust="spacing">740</text>
<line x1="396.5" y1="493.5" x2="420" y2="493.5" stroke="#262626" stroke-width="0.7"/>
<line x1="396.5" y1="499" x2="420" y2="499" stroke="#262626" stroke-width="0.7"/>
<line x1="418.8" y1="489.6" x2="418.8" y2="504.8" stroke="#262626" stroke-width="0.8"/>
<line x1="416.7" y1="495.6" x2="420.90000000000003" y2="491.4" stroke="#262626" stroke-width="0.9"/>
<line x1="416.7" y1="501.1" x2="420.90000000000003" y2="496.9" stroke="#262626" stroke-width="0.9"/>
<text x="0" y="0" font-size="8.4" font-weight="bold" fill="#1a1a1a" stroke="#1a1a1a" stroke-width="0.3" transform="translate(415.5 510) rotate(-90) scale(0.62 1)" xml:space="preserve" textLength="13.71" lengthAdjust="spacing">40</text>
<text x="0" y="0" font-size="14" font-weight="bold" fill="#1a1a1a" stroke="#1a1a1a" stroke-width="0.2" transform="translate(480.1 247.6) scale(0.62 1)" xml:space="preserve" textLength="8.87" lengthAdjust="spacing">2</text>
<text x="0" y="0" font-size="14" font-weight="bold" fill="#1a1a1a" stroke="#1a1a1a" stroke-width="0.2" transform="translate(507 247.6) scale(0.62 1)" xml:space="preserve" textLength="8.87" lengthAdjust="spacing">2</text>
<line x1="489.9" y1="244.2" x2="500" y2="244.2" stroke="#262626" stroke-width="1.7"/>
<line x1="476.2" y1="250.1" x2="514.9" y2="250.1" stroke="#262626" stroke-width="1.3"/>
<path d="M485.5,313 L485.5,284.6 L489.6,283.7 L489.6,279.6 L496.9,279.6 L496.9,289.6 L507.8,289.6 L507.8,308.3 L497,308.8 L492.3,310.5 L492.3,313" stroke="#262626" stroke-width="1.3" fill="none"/>
<rect x="490.2" y="292.4" width="15.6" height="12.4" stroke="#262626" stroke-width="2.4" fill="none"/>
<line x1="493.7" y1="284" x2="493.7" y2="292" stroke="#262626" stroke-width="2.0"/>
<line x1="488.3" y1="299" x2="488.3" y2="308.3" stroke="#262626" stroke-width="1.4"/>
<line x1="497.8" y1="309.5" x2="525" y2="310.5" stroke="#262626" stroke-width="0.8"/>
<line x1="502.3" y1="308.3" x2="525" y2="319.2" stroke="#262626" stroke-width="0.8"/>
<line x1="485.8" y1="313" x2="486.3" y2="384" stroke="#262626" stroke-width="1.3"/>
<line x1="492.3" y1="312" x2="492.6" y2="387" stroke="#262626" stroke-width="1.1"/>
<line x1="508.5" y1="312" x2="508.5" y2="384" stroke="#262626" stroke-width="0.8" stroke-dasharray="3,2.2"/>
<path d="M518.9,315.6 L524.7,318.9 L524.7,375.4 L508.3,385.2" stroke="#262626" stroke-width="0.9" fill="none"/>
<path d="M486.3,384 L486.5,437.5 L492.9,436.9 L494.1,431.1 L508.2,429.2 L508.2,387.8 L492,387.8 L491.6,385.5 Q490.5,383.9 488.5,383.9 Z" stroke="#262626" stroke-width="1.3" fill="none"/>
<line x1="488.8" y1="386.5" x2="488.8" y2="398" stroke="#262626" stroke-width="2.0"/>
<line x1="488.4" y1="391.6" x2="505.6" y2="391.6" stroke="#262626" stroke-width="2.0"/>
<line x1="491" y1="391.6" x2="491" y2="396" stroke="#262626" stroke-width="1.4"/>
<line x1="503" y1="391.6" x2="503" y2="396" stroke="#262626" stroke-width="1.4"/>
<line x1="490" y1="426" x2="506" y2="426" stroke="#262626" stroke-width="2.0"/>
<line x1="489.7" y1="418.4" x2="490" y2="431" stroke="#262626" stroke-width="1.8"/>
<path d="M496,418.5 L491.5,431.5 Q493,434 495,432" stroke="#262626" stroke-width="1.3" fill="none"/>
<line x1="504.5" y1="423" x2="504.5" y2="427" stroke="#262626" stroke-width="1.2"/>
<line x1="499.1" y1="279.3" x2="548" y2="279.3" stroke="#262626" stroke-width="0.8"/>
<line x1="505" y1="311.8" x2="549.3" y2="311.8" stroke="#262626" stroke-width="0.8"/>
<line x1="508" y1="386" x2="549" y2="386" stroke="#262626" stroke-width="0.8"/>
<line x1="487" y1="437.6" x2="549" y2="437.6" stroke="#262626" stroke-width="0.8"/>
<line x1="545.4" y1="275" x2="546.2" y2="441" stroke="#262626" stroke-width="0.8"/>
<line x1="543.6999999999999" y1="281.40000000000003" x2="547.9" y2="277.2" stroke="#262626" stroke-width="0.9"/>
<line x1="543.6999999999999" y1="313.90000000000003" x2="547.9" y2="309.7" stroke="#262626" stroke-width="0.9"/>
<line x1="543.6999999999999" y1="388.1" x2="547.9" y2="383.9" stroke="#262626" stroke-width="0.9"/>
<line x1="543.6999999999999" y1="439.70000000000005" x2="547.9" y2="435.5" stroke="#262626" stroke-width="0.9"/>
<text x="0" y="0" font-size="9.2" font-weight="bold" fill="#1a1a1a" stroke="#1a1a1a" stroke-width="0.3" transform="translate(540.6 302.3) rotate(-90) scale(0.62 1)" xml:space="preserve" textLength="28.23" lengthAdjust="spacing">445</text>
<text x="0" y="0" font-size="9.2" font-weight="bold" fill="#1a1a1a" stroke="#1a1a1a" stroke-width="0.3" transform="translate(543.8 356.6) rotate(-90) scale(0.62 1)" xml:space="preserve" textLength="29.35" lengthAdjust="spacing">1510</text>
<text x="0" y="0" font-size="9.2" font-weight="bold" fill="#1a1a1a" stroke="#1a1a1a" stroke-width="0.3" transform="translate(543 422.6) rotate(-90) scale(0.62 1)" xml:space="preserve" textLength="28.39" lengthAdjust="spacing">945</text>
<text x="0" y="0" font-size="8.8" font-weight="bold" fill="#1a1a1a" stroke="#1a1a1a" stroke-width="0.3" transform="translate(523 419.6) rotate(-90) scale(0.62 1)" xml:space="preserve" textLength="16.45" lengthAdjust="spacing">25</text>
<line x1="525.5" y1="404" x2="525.5" y2="432" stroke="#262626" stroke-width="0.7"/>
<line x1="513.3" y1="423.5" x2="528" y2="423.5" stroke="#262626" stroke-width="0.7"/>
<line x1="513.3" y1="429.2" x2="528" y2="429.2" stroke="#262626" stroke-width="0.7"/>
<text x="0" y="0" font-size="9.2" font-weight="bold" fill="#1a1a1a" stroke="#1a1a1a" stroke-width="0.3" transform="translate(521.4 372.1) rotate(-90) scale(0.62 1)" xml:space="preserve" textLength="92.42" lengthAdjust="spacing">АБНР1–66–2–1</text>
<text x="0" y="0" font-size="9.2" font-weight="bold" fill="#1a1a1a" stroke="#1a1a1a" stroke-width="0.3" transform="translate(533.7 374.6) rotate(-90) scale(0.62 1)" xml:space="preserve" textLength="108.06" lengthAdjust="spacing">АБНР1–66–2Л–1</text>
<line x1="487" y1="442.3" x2="487" y2="491.6" stroke="#262626" stroke-width="0.9"/>
<line x1="509.3" y1="442.3" x2="509.3" y2="491.6" stroke="#262626" stroke-width="0.9"/>
<line x1="484" y1="457.6" x2="512" y2="457.6" stroke="#262626" stroke-width="0.9"/>
<line x1="484.9" y1="459.70000000000005" x2="489.1" y2="455.5" stroke="#262626" stroke-width="0.9"/>
<line x1="507.2" y1="459.70000000000005" x2="511.40000000000003" y2="455.5" stroke="#262626" stroke-width="0.9"/>
<line x1="484" y1="475.2" x2="512" y2="475.2" stroke="#262626" stroke-width="0.9"/>
<line x1="484.9" y1="477.3" x2="489.1" y2="473.09999999999997" stroke="#262626" stroke-width="0.9"/>
<line x1="507.2" y1="477.3" x2="511.40000000000003" y2="473.09999999999997" stroke="#262626" stroke-width="0.9"/>
<line x1="484" y1="489.2" x2="512" y2="489.2" stroke="#262626" stroke-width="0.9"/>
<line x1="484.9" y1="491.3" x2="489.1" y2="487.09999999999997" stroke="#262626" stroke-width="0.9"/>
<line x1="507.2" y1="491.3" x2="511.40000000000003" y2="487.09999999999997" stroke="#262626" stroke-width="0.9"/>
<text x="0" y="0" font-size="8.6" font-weight="bold" fill="#1a1a1a" stroke="#1a1a1a" stroke-width="0.3" transform="translate(491.2 455.3) scale(0.62 1)" xml:space="preserve" textLength="22.58" lengthAdjust="spacing">300</text>
<text x="0" y="0" font-size="8.6" font-weight="bold" fill="#1a1a1a" stroke="#1a1a1a" stroke-width="0.3" transform="translate(491.2 472.2) scale(0.62 1)" xml:space="preserve" textLength="22.58" lengthAdjust="spacing">350</text>
<text x="0" y="0" font-size="8.6" font-weight="bold" fill="#1a1a1a" stroke="#1a1a1a" stroke-width="0.3" transform="translate(491.2 488.2) scale(0.62 1)" xml:space="preserve" textLength="22.58" lengthAdjust="spacing">400</text>
</svg>
</body></html>
